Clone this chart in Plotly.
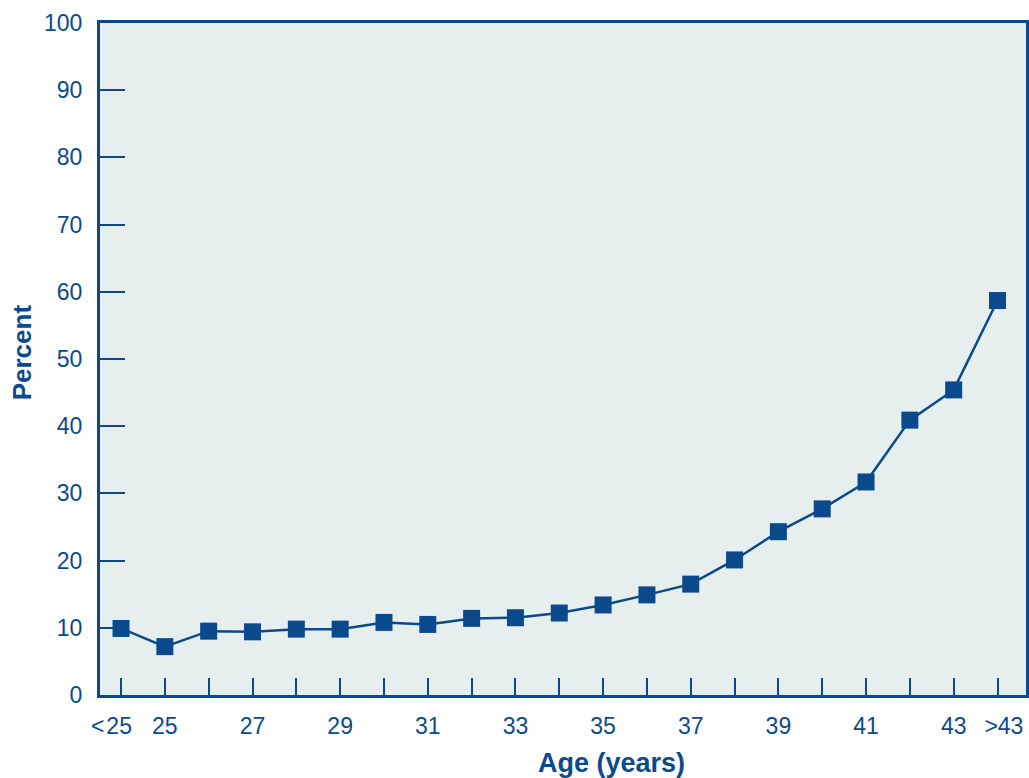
import plotly.graph_objects as go

categories = ["<25", "25", "26", "27", "28", "29", "30", "31", "32", "33", "34",
              "35", "36", "37", "38", "39", "40", "41", "42", "43", ">43"]
percent = [9.9, 7.2, 9.5, 9.4, 9.8, 9.8, 10.8, 10.5, 11.4, 11.5, 12.2,
           13.4, 14.9, 16.5, 20.1, 24.3, 27.7, 31.7, 40.9, 45.4, 58.7]
labeled = ["<25", "25", "27", "29", "31", "33", "35", "37", "39", "41", "43", ">43"]
y_ticks = [0, 10, 20, 30, 40, 50, 60, 70, 80, 90, 100]

NB = "\u00a0"
tick_text = []
for c in categories:
    if c not in labeled:
        tick_text.append("")
    elif c.startswith("<"):
        tick_text.append("<\u200a" + c[1:] + NB * 3)
    elif c.startswith(">"):
        tick_text.append(NB * 2 + c)
    else:
        tick_text.append(c)

blue = "#0a4a8c"
fnt = "Liberation Sans, Arial, Helvetica, sans-serif"

fig = go.Figure()
fig.add_trace(go.Scatter(
    x=list(range(len(categories))), y=percent, mode="lines+markers",
    line=dict(color=blue, width=2.5),
    marker=dict(symbol="square", size=17, color=blue),
    hoverinfo="skip", showlegend=False,
))

fig.update_layout(
    width=1029, height=778,
    margin=dict(l=100, r=3, t=23, b=83, autoexpand=False),
    paper_bgcolor="white", plot_bgcolor="#e6efee",
    font=dict(family=fnt, color=blue, size=23),
    annotations=[
        dict(text="<b>Age (years)</b>", xref="paper", yref="paper",
             x=0.552, y=-0.101, xanchor="center", yanchor="middle",
             showarrow=False, font=dict(size=27, color=blue)),
        dict(text="<b>Percent</b>", xref="paper", yref="paper",
             x=-0.0842, y=0.51, xanchor="center", yanchor="middle",
             textangle=-90, showarrow=False, font=dict(size=26, color=blue)),
    ],
)
fig.update_xaxes(
    range=[-0.48, 20.65], tickmode="array",
    tickvals=list(range(len(categories))), ticktext=tick_text,
    tickangle=0, automargin=False,
    ticks="inside", ticklen=17, tickwidth=2, tickcolor=blue,
    showline=True, linewidth=3, linecolor=blue, mirror=True,
    showgrid=False, zeroline=False, ticklabelstandoff=8,
)
fig.update_yaxes(
    range=[0, 100], tickmode="array", tickvals=y_ticks,
    ticks="inside", ticklen=25, tickwidth=2, tickcolor=blue,
    showline=True, linewidth=3, linecolor=blue, mirror=True,
    showgrid=False, zeroline=False, ticklabelstandoff=10, automargin=False,
)

fig.write_html(
    "out.html",
    config={"displayModeBar": False},
    post_script="document.body.style.margin='0';document.body.style.overflow='hidden';",
)
